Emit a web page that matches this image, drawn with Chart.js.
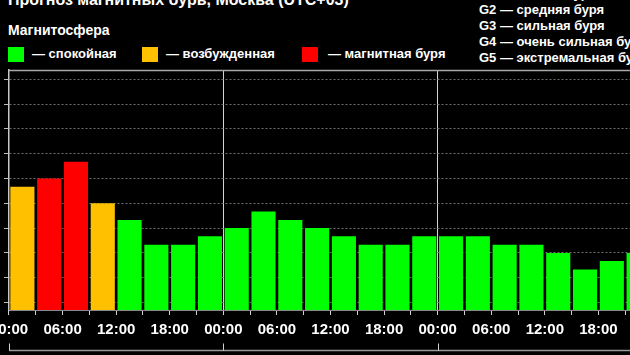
<!DOCTYPE html>
<html>
<head>
<meta charset="utf-8">
<script src="https://cdn.jsdelivr.net/npm/chart.js@4.4.1/dist/chart.umd.min.js"></script>
<style>
  html, body { margin:0; padding:0; background:#000; width:630px; height:355px; overflow:hidden; }
  body { position:relative; font-family:'Liberation Sans', Arial, sans-serif; color:#fff; }
  .t { position:absolute; white-space:nowrap; font-weight:bold; color:#fff; }
  .sq { position:absolute; width:16px; height:15px; }
  #wrap { position:absolute; left:-40px; top:0; width:720px; height:400px; }
</style>
</head>
<body>
<div class="t" id="title" style="left:8px; top:-8px; font-size:16px; line-height:16px;">Прогноз магнитных бурь, Москва (UTC+03)</div>
<div class="t" style="left:8px; top:21px; font-size:14px; line-height:18px;">Магнитосфера</div>
<div class="sq" style="left:8px; top:47px; background:#00ff00;"></div>
<div class="t" style="left:32px; top:46px; font-size:13px; line-height:16px;">— спокойная</div>
<div class="sq" style="left:142px; top:47px; background:#ffc000;"></div>
<div class="t" style="left:166px; top:46px; font-size:13px; line-height:16px;">— возбужденная</div>
<div class="sq" style="left:302px; top:47px; background:#ff0000;"></div>
<div class="t" style="left:328px; top:46px; font-size:13px; line-height:16px;">— магнитная буря</div>
<div class="t" style="left:479px; top:-14px; font-size:13px; line-height:16px;">G1 — слабая буря</div>
<div class="t" style="left:479px; top:2px; font-size:13px; line-height:16px;">G2 — средняя буря</div>
<div class="t" style="left:479px; top:18px; font-size:13px; line-height:16px;">G3 — сильная буря</div>
<div class="t" style="left:479px; top:34px; font-size:13px; line-height:16px;">G4 — очень сильная буря</div>
<div class="t" style="left:479px; top:50px; font-size:13px; line-height:16px;">G5 — экстремальная буря</div>
<div id="wrap"><canvas id="c" width="720" height="400"></canvas></div>
<script>
// ---- data ----
const timeLabels = [
  '00:00','03:00','06:00','09:00','12:00','15:00','18:00','21:00',
  '00:00','03:00','06:00','09:00','12:00','15:00','18:00','21:00',
  '00:00','03:00','06:00','09:00','12:00','15:00','18:00','21:00'
];
const kpValues = [
  4.67, 5.00, 5.67, 4.00, 3.33, 2.33, 2.33, 2.67,
  3.00, 3.67, 3.33, 3.00, 2.67, 2.33, 2.33, 2.67,
  2.67, 2.67, 2.33, 2.33, 2.00, 1.33, 1.67, 2.00
];
const dayLabels = ['16 июня 2025', '17 июня 2025', '18 июня 2025'];
const yMin = -0.3;
const yMax = 9.37;
const barsPerDay = 8;

const FONT = "'Liberation Sans', Arial, sans-serif";
const GREEN = '#00ff00', YELLOW = '#ffc000', RED = '#ff0000';
function levelColor(v) { return v >= 5 ? RED : (v >= 4 ? YELLOW : GREEN); }

const framePlugin = {
  id: 'frame',
  afterDraw(chart) {
    const ctx = chart.ctx, a = chart.chartArea, x = chart.scales.x;
    ctx.save();
    // top border of plot
    ctx.strokeStyle = '#a8a8a8';
    ctx.lineWidth = 1.5;
    ctx.beginPath();
    ctx.moveTo(a.left, a.top + 0.5);
    ctx.lineTo(a.right, a.top + 0.5);
    ctx.stroke();
    // day bracket below time labels
    const yLine = 350.5;
    const n = dayLabels.length;
    const step = x.getPixelForTick(1) - x.getPixelForTick(0);
    const bounds = [];
    for (let d = 0; d <= n; d++) {
      const i = d * barsPerDay;
      const px = i < timeLabels.length
        ? x.getPixelForTick(i) - step / 2
        : x.getPixelForTick(timeLabels.length - 1) + step / 2;
      bounds.push(px);
    }
    ctx.strokeStyle = '#9a9a9a';
    ctx.lineWidth = 1.5;
    ctx.beginPath();
    ctx.moveTo(bounds[0], yLine);
    ctx.lineTo(bounds[n], yLine);
    ctx.stroke();
    ctx.lineWidth = 1;
    ctx.strokeStyle = '#cfcfcf';
    for (let d = 0; d <= n; d++) {
      ctx.beginPath();
      ctx.moveTo(Math.round(bounds[d]) + 0.5, yLine - 7);
      ctx.lineTo(Math.round(bounds[d]) + 0.5, yLine);
      ctx.stroke();
    }
    ctx.fillStyle = '#ffffff';
    ctx.font = 'bold 15px ' + FONT;
    ctx.textAlign = 'center';
    ctx.textBaseline = 'alphabetic';
    for (let d = 0; d < n; d++) {
      ctx.fillText(dayLabels[d], (bounds[d] + bounds[d + 1]) / 2, 366);
    }
    ctx.restore();
  }
};

new Chart(document.getElementById('c'), {
  type: 'bar',
  data: {
    labels: timeLabels,
    datasets: [{
      data: kpValues,
      base: yMin,
      backgroundColor: ctx => levelColor(ctx.raw),
      borderWidth: 0,
      barPercentage: 0.9,
      categoryPercentage: 1.0
    }]
  },
  options: {
    responsive: false,
    devicePixelRatio: 1,
    animation: false,
    layout: { padding: { top: 70, right: 28, left: 0, bottom: 0 } },
    plugins: { legend: { display: false }, tooltip: { enabled: false }, title: { display: false } },
    scales: {
      x: {
        type: 'category',
        offset: true,
        grid: {
          offset: true,
          drawOnChartArea: true,
          color: c => (c.index !== undefined && c.index % barsPerDay === 0) ? '#d4d4d4' : 'rgba(0,0,0,0)',
          lineWidth: 1,
          drawTicks: true,
          tickLength: 5,
          tickColor: '#d0d0d0',
          tickWidth: 1
        },
        border: { display: true, color: '#888888', width: 1 },
        ticks: {
          autoSkip: false,
          maxRotation: 0,
          minRotation: 0,
          color: '#ffffff',
          font: { family: FONT, size: 15, weight: 'bold' },
          padding: 6,
          labelOffset: -13.4,
          callback: (v, i) => (i % 2 === 0 ? timeLabels[i] : '')
        },
        afterFit: s => { s.height = 90; }
      },
      y: {
        min: yMin,
        max: yMax,
        grid: {
          color: '#6e6e6e',
          lineWidth: 1,
          drawTicks: true,
          tickLength: 5,
          tickColor: '#bdbdbd'
        },
        border: { display: true, color: '#c8c8c8', width: 1.5, dash: [2, 2] },
        ticks: {
          stepSize: 1,
          includeBounds: false,
          color: '#ffffff',
          font: { family: FONT, size: 15, weight: 'bold' },
          padding: 4
        },
        afterFit: s => { s.width = 49; }
      }
    }
  },
  plugins: [framePlugin]
});
</script>
</body>
</html>
